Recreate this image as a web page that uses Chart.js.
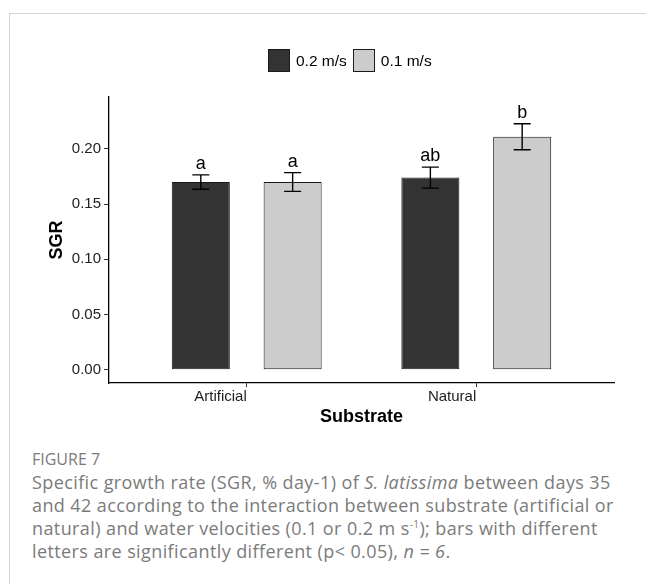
<!DOCTYPE html>
<html lang="en">
<head>
  <meta charset="UTF-8" />
  <title>Figure 7 - SGR by substrate</title>
  <script src="https://cdn.jsdelivr.net/npm/chart.js"></script>
  <style>
    html, body { margin: 0; padding: 0; background: #fff; }
    body { width: 646px; height: 584px; position: relative; overflow: hidden; font-family: "Liberation Sans", Arial, sans-serif; }
    .frame { position: absolute; left: 9px; top: 13px; right: -4px; bottom: -4px; border-top: 1.5px solid #d3d3d3; border-left: 1.5px solid #d3d3d3; }
    .plot { position: absolute; left: 0; top: 0; width: 646px; height: 445px; }
    #legend { position: absolute; left: 268px; top: 49px; display: flex; align-items: center; font-size: 15.5px; color: #000; }
    #legend .item { display: flex; align-items: center; margin-right: 6px; }
    #legend .swatch { width: 20px; height: 21px; border: 1px solid #1a1a1a; margin-right: 6px; }
    .caption { position: absolute; left: 32px; top: 447px; font-family: "Open Sans", sans-serif; color: #7b7b7b; }
    .caption .fig { font-size: 16px; line-height: 24px; }
    .caption p { margin: 0; font-size: 18px; line-height: 23px; letter-spacing: 0.4px; }
    .caption sup { font-size: 10px; line-height: 0; }
  </style>
</head>
<body>
<div class="frame"></div>
<div class="plot"><canvas id="sgrChart" width="646" height="445"></canvas></div>
<div id="legend"></div>
<div class="caption">
  <div class="fig">FIGURE 7</div>
  <p>Specific growth rate (SGR, % day-1) of <i>S. latissima</i> between days 35<br>
  and 42 according to the interaction between substrate (artificial or<br>
  natural) and water velocities (0.1 or 0.2 m s<sup>-1</sup>); bars with different<br>
  letters are significantly different (p&lt; 0.05), <i>n = 6</i>.</p>
</div>

<script>
// data
const substrates = ['Artificial', 'Natural'];
const velocities = ['0.2 m/s', '0.1 m/s'];
const sgrFast = [0.170, 0.174];   // 0.2 m/s
const sgrSlow = [0.170, 0.211];   // 0.1 m/s
const errFast = [0.0065, 0.0095];
const errSlow = [0.0085, 0.0118];
const lettersFast = ['a', 'ab'];
const lettersSlow = ['a', 'b'];
const yTicks = [0, 0.05, 0.10, 0.15, 0.20];

const barColors = ['#333333', '#cccccc'];
const groupPos = substrates.map((s, i) => i + 1);

const toPoints = vals => vals.map((v, i) => ({ x: groupPos[i], y: v }));
const axisFont = { family: '"Liberation Sans", Arial, sans-serif', size: 15 };

const errorBars = {
  id: 'errorBars',
  afterDatasetsDraw(chart) {
    const { ctx } = chart;
    const y = chart.scales.y;
    ctx.save();
    chart.data.datasets.forEach((ds, di) => {
      const meta = chart.getDatasetMeta(di);
      meta.data.forEach((bar, i) => {
        const v = ds.data[i].y, e = ds.errors[i];
        const top = y.getPixelForValue(v + e);
        const bot = y.getPixelForValue(v - e);
        ctx.strokeStyle = '#000';
        ctx.lineWidth = 1.4;
        ctx.beginPath();
        ctx.moveTo(bar.x, top); ctx.lineTo(bar.x, bot);
        ctx.moveTo(bar.x - 8.5, top); ctx.lineTo(bar.x + 8.5, top);
        ctx.moveTo(bar.x - 8.5, bot); ctx.lineTo(bar.x + 8.5, bot);
        ctx.stroke();
        ctx.fillStyle = '#000';
        ctx.font = '18px "Liberation Sans", Arial, sans-serif';
        ctx.textAlign = 'center';
        ctx.textBaseline = 'alphabetic';
        ctx.fillText(ds.letters[i], bar.x, top - 6);
      });
    });
    ctx.restore();
  }
};

const chart = new Chart(document.getElementById('sgrChart'), {
  type: 'bar',
  data: {
    datasets: [
      { label: velocities[0], data: toPoints(sgrFast), errors: errFast, letters: lettersFast,
        backgroundColor: barColors[0], borderColor: '#1a1a1a', borderWidth: 1, borderSkipped: false },
      { label: velocities[1], data: toPoints(sgrSlow), errors: errSlow, letters: lettersSlow,
        backgroundColor: barColors[1], borderColor: '#1a1a1a', borderWidth: 1, borderSkipped: false }
    ]
  },
  options: {
    responsive: false,
    animation: false,
    categoryPercentage: 0.8,
    barPercentage: 0.632,
    layout: { padding: { top: 97, left: 0, right: 32, bottom: 0 } },
    plugins: { legend: { display: false }, tooltip: { enabled: false } },
    scales: {
      x: {
        type: 'linear',
        min: 0.4,
        max: 2.6,
        offset: false,
        afterBuildTicks: s => { s.ticks = groupPos.map(v => ({ value: v })); },
        afterFit: s => { s.height = 62; },
        ticks: {
          callback: v => substrates[v - 1],
          align: 'end',
          maxRotation: 0,
          padding: 1,
          color: '#222',
          font: axisFont
        },
        grid: { offset: false, drawOnChartArea: false, drawTicks: true, tickLength: 4, color: '#333' },
        border: { display: true, color: '#000', width: 1.3 },
        title: {
          display: true, text: 'Substrate', color: '#000',
          font: { family: '"Liberation Sans", Arial, sans-serif', size: 18, weight: 'bold' },
          padding: { top: 0, bottom: 17 }
        }
      },
      y: {
        min: -0.012,
        max: 0.247,
        afterBuildTicks: s => { s.ticks = yTicks.map(v => ({ value: v })); },
        afterFit: s => { s.width = 109; },
        ticks: {
          callback: v => v.toFixed(2),
          padding: 3,
          color: '#222',
          font: axisFont
        },
        grid: { offset: false, drawOnChartArea: false, drawTicks: true, tickLength: 5, color: '#333' },
        border: { display: true, color: '#000', width: 1.3 },
        title: {
          display: true, text: 'SGR', color: '#000',
          font: { family: '"Liberation Sans", Arial, sans-serif', size: 18, weight: 'bold' },
          padding: { top: 46, bottom: 0 }
        }
      }
    }
  },
  plugins: [errorBars]
});

// html legend built from the datasets
const legendEl = document.getElementById('legend');
chart.data.datasets.forEach(ds => {
  const item = document.createElement('div');
  item.className = 'item';
  const sw = document.createElement('span');
  sw.className = 'swatch';
  sw.style.background = ds.backgroundColor;
  const txt = document.createElement('span');
  txt.textContent = ds.label;
  item.appendChild(sw);
  item.appendChild(txt);
  legendEl.appendChild(item);
});
</script>
</body>
</html>
